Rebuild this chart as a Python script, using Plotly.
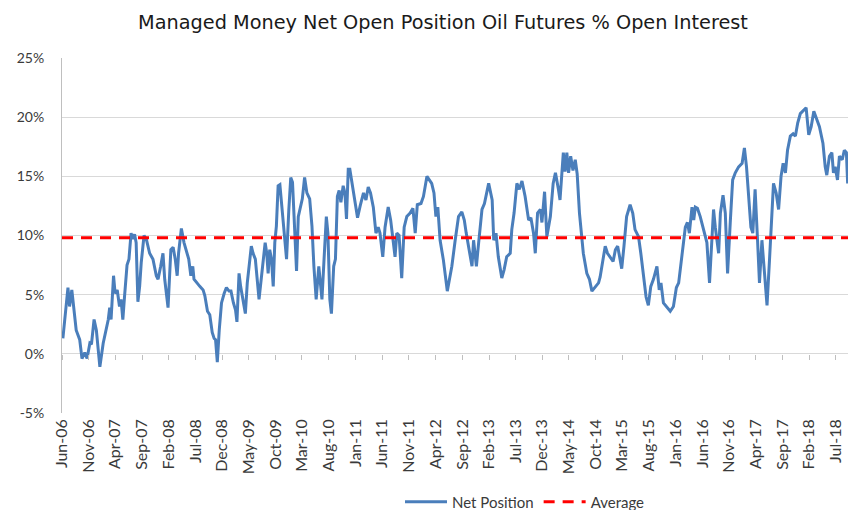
import plotly.graph_objects as go

# ---- data ----
dates = [
    "2006-06-06", "2006-07-05", "2006-07-14", "2006-07-27", "2006-08-21", "2006-09-10", "2006-09-23",
    "2006-10-09", "2006-10-22", "2006-11-07", "2006-11-16", "2006-12-01", "2006-12-14", "2007-01-03",
    "2007-01-22", "2007-02-10", "2007-02-20", "2007-02-28", "2007-03-08", "2007-03-22", "2007-03-31",
    "2007-04-12", "2007-04-25", "2007-05-04", "2007-05-14", "2007-05-24", "2007-06-07", "2007-06-18",
    "2007-06-30", "2007-07-10", "2007-07-20", "2007-07-29", "2007-08-08", "2007-08-18", "2007-08-27",
    "2007-09-12", "2007-09-25", "2007-10-14", "2007-11-02", "2007-11-21", "2007-12-01", "2007-12-16",
    "2007-12-29", "2008-01-08", "2008-01-27", "2008-02-12", "2008-02-25", "2008-03-08", "2008-03-19",
    "2008-03-27", "2008-04-12", "2008-04-27", "2008-05-10", "2008-05-24", "2008-06-05", "2008-06-16",
    "2008-06-23", "2008-07-06", "2008-07-26", "2008-08-14", "2008-08-24", "2008-09-08", "2008-09-21",
    "2008-10-05", "2008-10-16", "2008-10-24", "2008-11-03", "2008-11-14", "2008-11-27", "2008-12-12",
    "2008-12-25", "2009-01-09", "2009-01-20", "2009-02-03", "2009-02-15", "2009-02-23", "2009-03-07",
    "2009-03-16", "2009-03-29", "2009-04-12", "2009-04-23", "2009-05-07", "2009-05-16", "2009-05-26",
    "2009-06-08", "2009-06-29", "2009-07-19", "2009-08-03", "2009-08-12", "2009-08-20", "2009-08-29",
    "2009-09-08", "2009-09-18", "2009-09-27", "2009-10-06", "2009-10-16", "2009-10-26", "2009-11-08",
    "2009-11-20", "2009-12-03", "2009-12-16", "2009-12-27", "2010-01-06", "2010-01-20", "2010-01-29",
    "2010-02-08", "2010-02-20", "2010-03-03", "2010-03-16", "2010-03-29", "2010-04-14", "2010-04-27",
    "2010-05-08", "2010-05-21", "2010-06-05", "2010-06-16", "2010-06-23", "2010-07-05", "2010-07-18",
    "2010-07-27", "2010-08-07", "2010-08-16", "2010-08-29", "2010-09-08", "2010-09-19", "2010-09-29",
    "2010-10-09", "2010-10-22", "2010-11-01", "2010-11-10", "2010-11-20", "2010-11-29", "2010-12-12",
    "2010-12-27", "2011-01-12", "2011-01-27", "2011-02-15", "2011-03-01", "2011-03-14", "2011-03-27",
    "2011-04-12", "2011-04-27", "2011-05-10", "2011-05-20", "2011-06-05", "2011-06-18", "2011-07-06",
    "2011-07-20", "2011-08-04", "2011-08-14", "2011-08-24", "2011-09-06", "2011-09-21", "2011-10-05",
    "2011-10-20", "2011-11-08", "2011-11-24", "2011-12-07", "2011-12-19", "2012-01-09", "2012-01-23",
    "2012-02-12", "2012-03-10", "2012-03-23", "2012-04-03", "2012-04-14", "2012-04-27", "2012-05-16",
    "2012-06-07", "2012-07-03", "2012-07-22", "2012-08-10", "2012-08-29", "2012-09-12", "2012-09-23",
    "2012-10-06", "2012-10-26", "2012-11-04", "2012-11-20", "2012-12-03", "2012-12-22", "2013-01-05",
    "2013-01-29", "2013-02-18", "2013-02-27", "2013-03-12", "2013-03-25", "2013-04-14", "2013-04-27",
    "2013-05-12", "2013-06-01", "2013-06-10", "2013-06-23", "2013-07-09", "2013-07-23", "2013-08-07",
    "2013-08-25", "2013-09-14", "2013-09-27", "2013-10-12", "2013-10-22", "2013-11-04", "2013-11-20",
    "2013-11-29", "2013-12-14", "2013-12-27", "2014-01-16", "2014-02-01", "2014-02-14", "2014-03-03",
    "2014-03-12", "2014-03-31", "2014-04-10", "2014-04-20", "2014-04-30", "2014-05-12", "2014-05-25",
    "2014-06-07", "2014-06-18", "2014-07-01", "2014-07-14", "2014-07-23", "2014-08-12", "2014-08-27",
    "2014-09-10", "2014-09-29", "2014-10-18", "2014-10-27", "2014-11-15", "2014-11-25", "2014-12-08",
    "2014-12-23", "2015-01-09", "2015-01-22", "2015-02-04", "2015-02-15", "2015-02-27", "2015-03-12",
    "2015-03-27", "2015-04-16", "2015-05-01", "2015-05-14", "2015-06-03", "2015-06-16", "2015-07-01",
    "2015-07-16", "2015-07-29", "2015-08-12", "2015-08-27", "2015-09-16", "2015-09-29", "2015-10-09",
    "2015-10-23", "2015-11-12", "2015-12-01", "2015-12-19", "2016-01-05", "2016-01-18", "2016-02-06",
    "2016-02-25", "2016-03-08", "2016-03-19", "2016-04-03", "2016-04-13", "2016-04-22", "2016-05-04",
    "2016-05-20", "2016-06-05", "2016-06-18", "2016-06-27", "2016-07-12", "2016-07-24", "2016-08-04",
    "2016-08-14", "2016-08-22", "2016-09-02", "2016-09-12", "2016-09-27", "2016-10-10", "2016-10-23",
    "2016-11-08", "2016-11-21", "2016-12-06", "2016-12-25", "2017-01-14", "2017-01-27", "2017-02-08",
    "2017-02-20", "2017-03-05", "2017-03-16", "2017-03-29", "2017-04-12", "2017-04-23", "2017-05-07",
    "2017-05-20", "2017-06-05", "2017-06-19", "2017-07-03", "2017-07-12", "2017-07-27", "2017-08-10",
    "2017-08-24", "2017-09-05", "2017-09-18", "2017-09-30", "2017-10-16", "2017-11-01", "2017-11-14",
    "2017-11-27", "2017-12-12", "2017-12-27", "2018-01-14", "2018-01-29", "2018-02-12", "2018-02-27",
    "2018-03-12", "2018-03-31", "2018-04-20", "2018-05-03", "2018-05-12", "2018-05-27", "2018-06-10",
    "2018-06-19", "2018-06-29", "2018-07-12", "2018-07-23", "2018-08-08", "2018-08-20", "2018-09-01",
    "2018-09-08",
]

net_position = [
    1.3, 5.6, 4.0, 5.4, 2.0, 1.2, -0.4,
    0.1, -0.4, 0.9, 0.8, 2.9, 2.0, -1.1,
    0.9, 2.3, 2.9, 3.9, 2.9, 6.6, 5.1,
    5.4, 4.0, 4.6, 2.9, 4.9, 7.5, 8.0,
    10.2, 9.7, 10.1, 9.4, 4.4, 5.7, 7.7,
    10.0, 9.7, 8.5, 8.0, 6.6, 6.3, 7.4,
    8.5, 6.3, 3.9, 8.8, 9.0, 8.0, 6.6,
    8.5, 10.6, 9.4, 8.7, 8.0, 6.6, 7.4,
    6.3, 6.1, 5.7, 5.4, 4.9, 3.6, 3.3,
    1.8, 1.3, 1.2, -0.7, 2.0, 4.3, 5.1,
    5.6, 5.3, 5.3, 4.3, 3.7, 2.7, 6.8,
    5.7, 4.6, 3.4, 6.0, 8.0, 9.1, 8.5,
    8.0, 4.6, 7.4, 9.4, 8.5, 6.8, 8.8,
    8.0, 5.7, 9.4, 10.8, 14.2, 14.3, 12.2,
    10.8, 8.0, 12.2, 14.9, 14.5, 10.2, 7.0,
    11.6, 12.5, 13.1, 14.9, 13.6, 13.1, 10.8,
    7.4, 4.6, 7.4, 6.0, 4.6, 8.0, 11.6,
    10.2, 4.6, 3.4, 7.4, 8.0, 13.3, 13.8,
    12.8, 14.2, 13.6, 11.4, 15.6, 15.6, 14.5,
    13.1, 11.5, 12.5, 13.6, 13.0, 14.1, 13.6,
    12.4, 10.2, 10.7, 10.2, 8.2, 10.7, 12.4,
    11.3, 9.1, 8.2, 10.2, 10.0, 6.4, 10.7,
    11.6, 11.9, 12.3, 10.2, 12.6, 12.7, 13.3,
    15.0, 14.4, 13.6, 11.6, 12.4, 9.6, 7.9,
    5.3, 7.4, 9.6, 11.6, 12.0, 11.3, 10.2,
    9.1, 7.4, 9.6, 7.4, 9.4, 12.2, 12.7,
    14.4, 13.0, 9.6, 10.2, 8.2, 6.4, 7.1,
    8.2, 8.5, 10.5, 11.9, 14.4, 13.9, 14.6,
    13.3, 11.3, 11.5, 10.2, 8.5, 11.9, 12.2,
    11.1, 13.7, 9.9, 11.6, 14.4, 15.3, 13.9,
    13.0, 17.0, 15.4, 17.0, 15.3, 16.7, 15.5,
    16.4, 15.2, 11.9, 10.2, 8.5, 6.8, 6.3,
    5.3, 5.7, 6.0, 6.5, 8.2, 9.1, 8.5,
    8.2, 7.8, 8.8, 9.1, 8.2, 7.2, 9.1,
    11.6, 12.6, 11.9, 10.5, 9.9, 8.5, 6.8,
    4.8, 4.1, 5.7, 6.3, 7.4, 5.4, 6.0,
    4.3, 3.9, 3.6, 4.0, 5.6, 6.0, 8.2,
    10.7, 11.1, 10.2, 12.4, 11.3, 12.4, 12.3,
    11.6, 10.7, 9.9, 9.4, 6.0, 9.6, 12.2,
    10.7, 9.6, 8.5, 11.9, 13.4, 11.9, 6.8,
    11.3, 14.7, 15.3, 15.8, 16.1, 17.4, 15.8,
    13.0, 10.7, 10.2, 13.9, 9.6, 6.0, 9.6,
    7.4, 4.1, 7.9, 11.9, 14.4, 13.6, 12.2,
    15.0, 16.1, 15.3, 17.2, 18.4, 18.6, 18.4,
    19.5, 20.3, 20.5, 20.8, 18.5, 19.2, 20.5,
    20.0, 19.2, 17.8, 15.8, 15.1, 16.7, 17.0,
    15.3, 15.8, 14.7, 16.7, 16.4, 17.2, 17.0,
    14.4,
]

average = 9.8

tick_dates = [
    "2006-06-01", "2006-11-01", "2007-04-01", "2007-09-01", "2008-02-01", "2008-07-01",
    "2008-12-01", "2009-05-01", "2009-10-01", "2010-03-01", "2010-08-01", "2011-01-01",
    "2011-06-01", "2011-11-01", "2012-04-01", "2012-09-01", "2013-02-01", "2013-07-01",
    "2013-12-01", "2014-05-01", "2014-10-01", "2015-03-01", "2015-08-01", "2016-01-01",
    "2016-06-01", "2016-11-01", "2017-04-01", "2017-09-01", "2018-02-01", "2018-07-01",
]
tick_labels = [
    "Jun-06", "Nov-06", "Apr-07", "Sep-07", "Feb-08", "Jul-08", "Dec-08", "May-09",
    "Oct-09", "Mar-10", "Aug-10", "Jan-11", "Jun-11", "Nov-11", "Apr-12", "Sep-12",
    "Feb-13", "Jul-13", "Dec-13", "May-14", "Oct-14", "Mar-15", "Aug-15", "Jan-16",
    "Jun-16", "Nov-16", "Apr-17", "Sep-17", "Feb-18", "Jul-18",
]

y_ticks = [-5, 0, 5, 10, 15, 20, 25]
y_tick_labels = ["-5%", "0%", "5%", "10%", "15%", "20%", "25%"]

x_start = "2006-06-01"
x_end = "2018-09-10"

title = "Managed Money Net Open Position Oil Futures % Open Interest"

# ---- figure ----
fig = go.Figure()

fig.add_trace(go.Scatter(
    x=dates, y=net_position, mode="lines", name="Net Position",
    line=dict(color="#4A7EBB", width=3),
    xaxis="x", yaxis="y",
))
fig.add_trace(go.Scatter(
    x=[x_start, x_end], y=[average, average], mode="lines", name="Average",
    line=dict(color="#FF0000", width=3, dash="11px,8px"),
    xaxis="x", yaxis="y",
))
# invisible trace to activate the tick-mark axis at the 0% line
fig.add_trace(go.Scatter(x=[x_start], y=[0], mode="markers", marker=dict(opacity=0),
                         xaxis="x2", yaxis="y", showlegend=False, hoverinfo="skip"))

xlabel_font = dict(family="Lato, 'Open Sans', sans-serif", size=16, color="#3a3a3a")
ylabel_font = dict(family="Lato, 'Open Sans', sans-serif", size=14, color="#3a3a3a")

fig.update_layout(
    width=848, height=510,
    margin=dict(l=62, r=0, t=58, b=97, autoexpand=False),
    paper_bgcolor="white", plot_bgcolor="white",
    title=dict(text=title, x=443 / 848, xanchor="center", xref="container",
               y=1 - 22 / 510, yanchor="middle", yref="container",
               font=dict(family="DejaVu Sans, sans-serif", size=19.3, color="#1a1a1a")),
    showlegend=True,
    legend=dict(orientation="h", xref="container", yref="container",
                x=525 / 848, xanchor="center", y=1 - 502 / 510, yanchor="middle",
                font=dict(family="Lato, 'Open Sans', sans-serif", size=15, color="#3a3a3a"),
                itemwidth=42, bgcolor="rgba(0,0,0,0)", tracegroupgap=0),
    xaxis=dict(
        type="date", range=[x_start, x_end], automargin=False,
        tickmode="array", tickvals=tick_dates, ticktext=tick_labels,
        tickangle=-90, tickfont=xlabel_font, ticks="", ticklabelstandoff=2,
        showgrid=False, zeroline=False, showline=False,
    ),
    xaxis2=dict(
        type="date", range=[x_start, x_end], overlaying="x", anchor="free",
        position=5 / 30, side="bottom", automargin=False,
        tickmode="array", tickvals=tick_dates, ticktext=[""] * len(tick_dates),
        ticks="outside", ticklen=5, tickcolor="#bfbfbf", tickwidth=1,
        showgrid=False, zeroline=False, showline=False, showticklabels=False,
    ),
    yaxis=dict(
        range=[-5, 25], tickmode="array", tickvals=y_ticks, ticktext=y_tick_labels,
        automargin=False, tickfont=ylabel_font, ticks="", ticklabelstandoff=14,
        showgrid=True, gridcolor="#d9d9d9", gridwidth=1,
        zeroline=False, showline=True, linecolor="#bfbfbf", linewidth=1,
    ),
)

fig.write_html("out.html", config={"displayModeBar": False},
               post_script="document.body.style.margin='0';")
